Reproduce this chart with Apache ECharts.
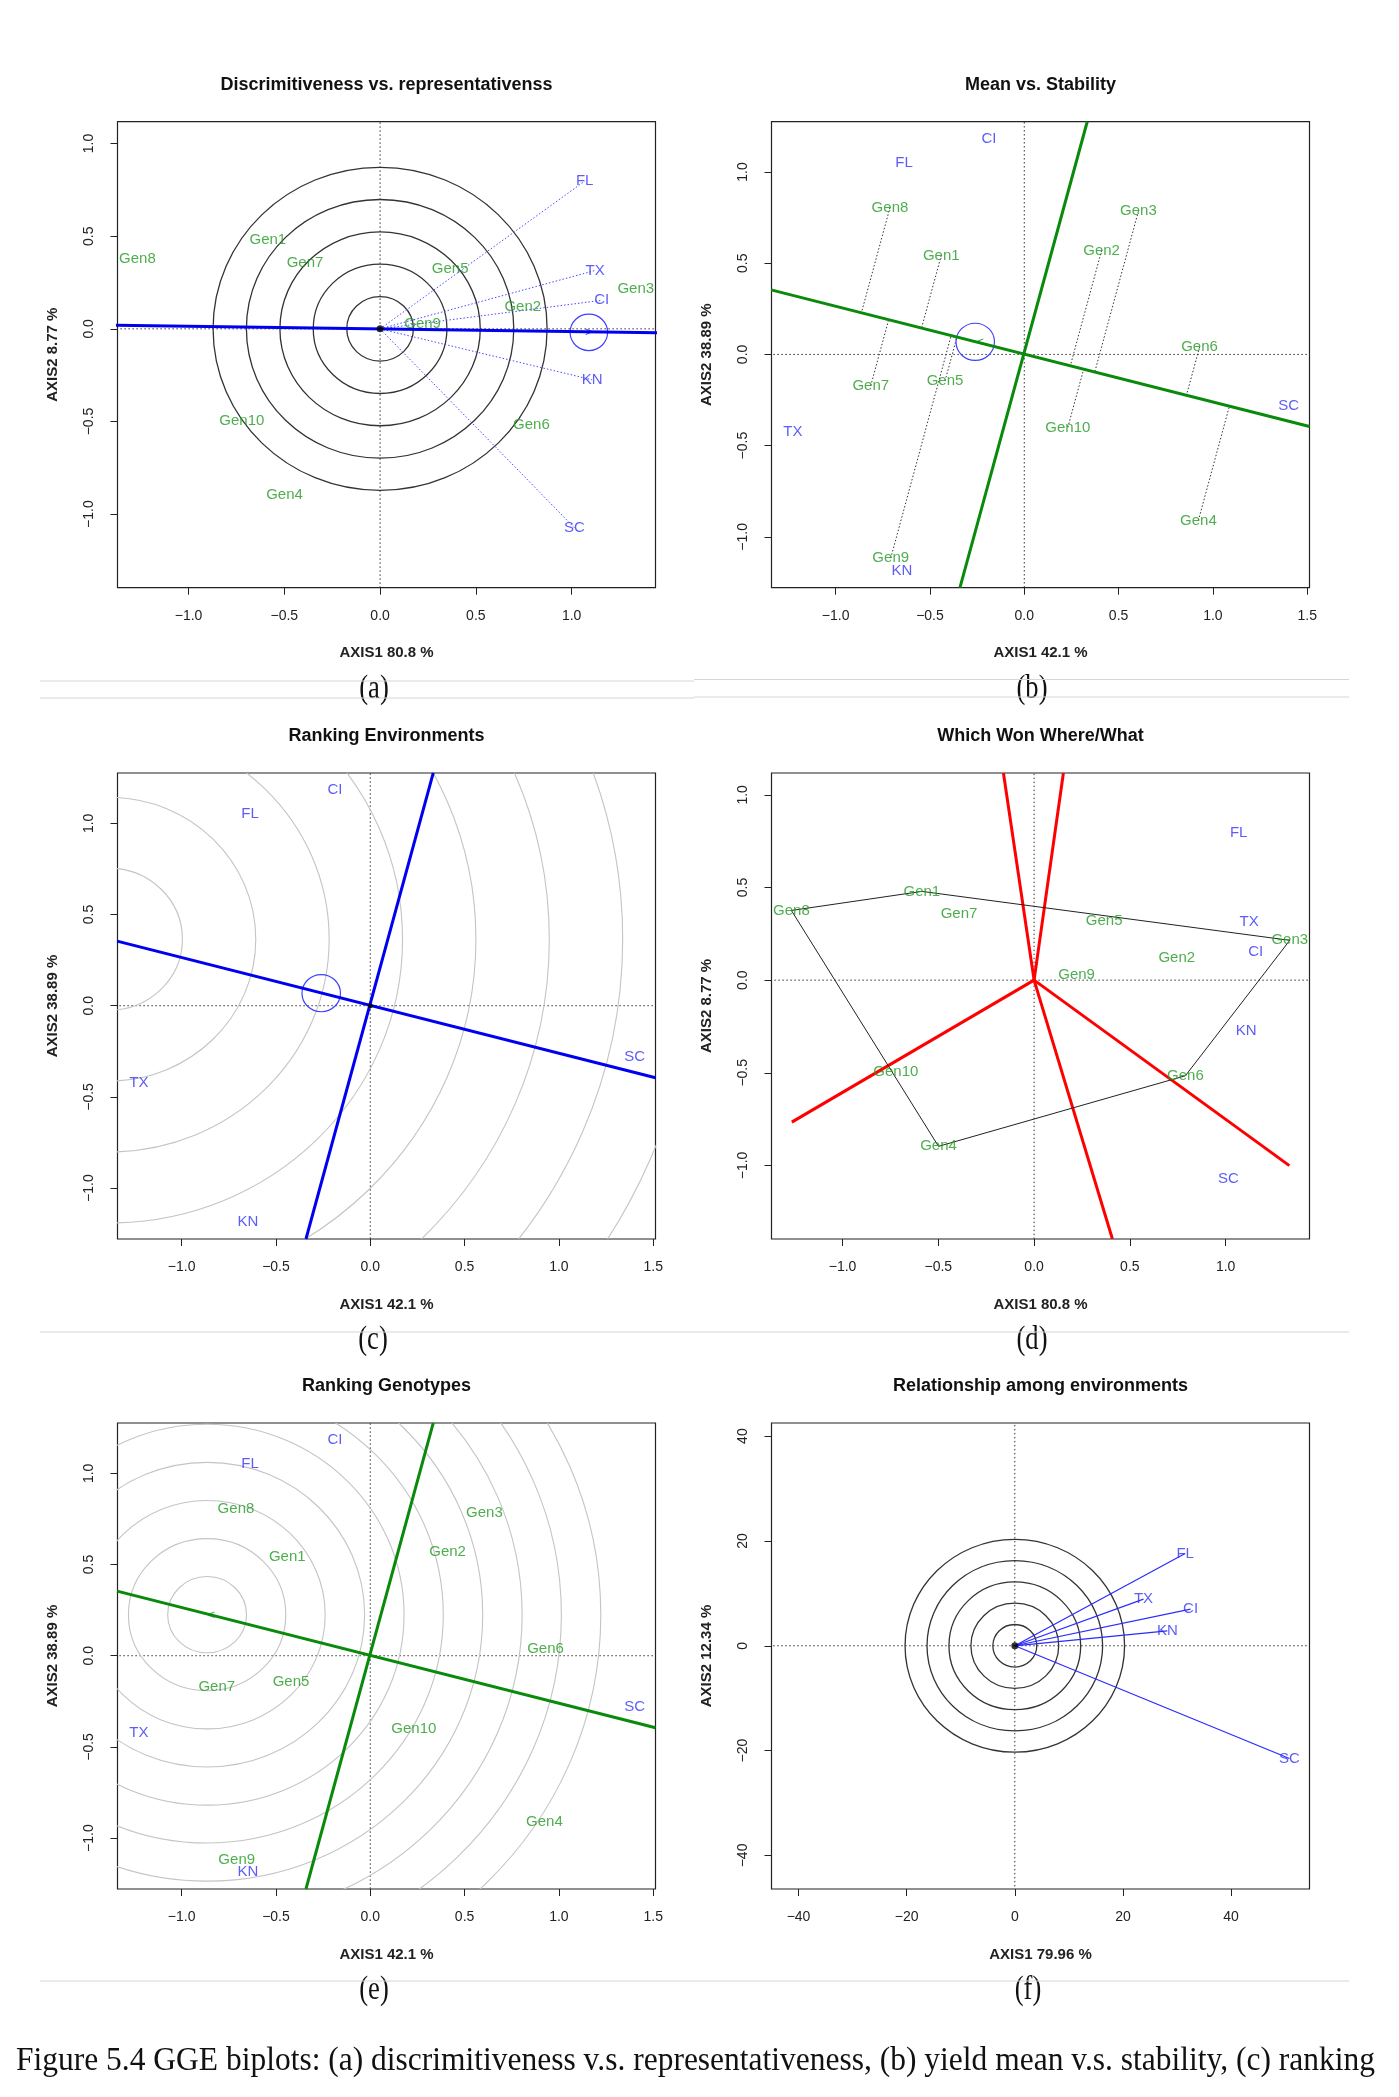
<!DOCTYPE html>
<html>
<head>
<meta charset="utf-8">
<title>GGE biplots</title>
<script src="https://cdn.jsdelivr.net/npm/echarts@6/dist/echarts.min.js"></script>
<style>
  html, body { margin: 0; padding: 0; background: #fff; }
  #chart { width: 1399px; height: 2097px; }
</style>
</head>
<body>
<div id="chart"></div>
<script>
// ---- values ----
const genotypes = ['Gen1', 'Gen2', 'Gen3', 'Gen4', 'Gen5', 'Gen6', 'Gen7', 'Gen8', 'Gen9', 'Gen10'];
const environments = ['FL', 'TX', 'CI', 'KN', 'SC'];

// scores on AXIS1 80.8 % / AXIS2 8.77 % (panels a, d)
const genAx1A = [-0.586, 0.745, 1.335, -0.499, 0.366, 0.790, -0.392, -1.267, 0.222, -0.722];
const genAx2A = [0.479, 0.120, 0.215, -0.897, 0.322, -0.516, 0.356, 0.376, 0.026, -0.497];
const envAx1A = [1.068, 1.123, 1.157, 1.107, 1.015];
const envAx2A = [0.797, 0.315, 0.154, -0.275, -1.074];

// scores on AXIS1 42.1 % / AXIS2 38.89 % (panels b, c, e)
const genAx1B = [-0.440, 0.410, 0.605, 0.923, -0.420, 0.929, -0.814, -0.712, -0.708, 0.231];
const genAx2B = [0.543, 0.570, 0.785, -0.910, -0.145, 0.040, -0.172, 0.805, -1.117, -0.400];
const envAx1B = [-0.637, -1.227, -0.187, -0.648, 1.402];
const envAx2B = [1.051, -0.422, 1.184, -1.186, -0.283];

// environment vectors on AXIS1 79.96 % / AXIS2 12.34 % (panel f)
const envAx1F = [31.5, 23.8, 32.5, 28.2, 50.8];
const envAx2F = [17.6, 8.9, 7.0, 2.85, -21.5];

// average-environment axes and markers
const aecLineA = [[-1.45, 0.021], [1.45, -0.021]];
const avgEnvA = [1.09, -0.019];
const avgRadiusA = [0.098];
const ringRadiiA = [0.174, 0.349, 0.523, 0.698, 0.872];

const aecAbscissaB = [[-1.342, 0.354], [1.512, -0.395]];
const aecOrdinateB = [[0.334, 1.277], [-0.341, -1.279]];
const avgEnvB = [-0.26, 0.069];
const avgRadiusB = [0.102];
const arrowB = [-0.235, 0.065];

const idealEnvC = [-1.385, 0.365];
const ringRadiiC = [0.389, 0.778, 1.167, 1.556, 1.945, 2.334, 2.723, 3.112];

const idealGenE = [-0.865, 0.225];
const arrowE = [-0.843, 0.22];
const ringRadiiE = [0.209, 0.417, 0.626, 0.835, 1.044, 1.252, 1.461, 1.670, 1.878, 2.087];

// which-won-where: hull vertices and sector rays (end points)
const hullOrder = ['Gen8', 'Gen1', 'Gen3', 'Gen6', 'Gen4', 'Gen8'];
const rayEndsD = [[-0.160, 1.118], [0.153, 1.118], [-1.265, -0.766], [0.409, -1.397], [1.333, -1.001]];

const ringRadiiF = [4.06, 8.12, 12.18, 16.24, 20.3];

// tick values
const ticksUnit = [-1, -0.5, 0, 0.5, 1];
const ticksUnitWide = [-1, -0.5, 0, 0.5, 1, 1.5];
const ticksF = [-40, -20, 0, 20, 40];

// ---- styling ----
const SANS = '"Liberation Sans", Arial, sans-serif';
const SERIF = '"Liberation Serif", "Times New Roman", serif';
const GREEN_TXT = '#229a22';
const GREEN_LN = '#0a8a0a';
const BLUE_TXT = '#3434f4';
const BLUE_LN = '#0000f0';

const W = 538, H = 466;
const colLeft = [117.5, 771.5];
const rowTop = [121.7, 773, 1423];

const panels = [
  { col: 0, row: 0, xr: [-1.371, 1.438], yr: [-1.397, 1.118], xt: ticksUnit, yt: ticksUnit,
    xname: 'AXIS1 80.8 %', yname: 'AXIS2 8.77 %', title: 'Discrimitiveness vs. representativenss', tag: '(a)', tagX: 374 },
  { col: 1, row: 0, xr: [-1.34, 1.512], yr: [-1.279, 1.276], xt: ticksUnitWide, yt: ticksUnit,
    xname: 'AXIS1 42.1 %', yname: 'AXIS2 38.89 %', title: 'Mean vs. Stability', tag: '(b)', tagX: 1032 },
  { col: 0, row: 1, xr: [-1.34, 1.512], yr: [-1.279, 1.276], xt: ticksUnitWide, yt: ticksUnit,
    xname: 'AXIS1 42.1 %', yname: 'AXIS2 38.89 %', title: 'Ranking Environments', tag: '(c)', tagX: 373 },
  { col: 1, row: 1, xr: [-1.371, 1.438], yr: [-1.397, 1.118], xt: ticksUnit, yt: ticksUnit,
    xname: 'AXIS1 80.8 %', yname: 'AXIS2 8.77 %', title: 'Which Won Where/What', tag: '(d)', tagX: 1032 },
  { col: 0, row: 2, xr: [-1.34, 1.512], yr: [-1.279, 1.276], xt: ticksUnitWide, yt: ticksUnit,
    xname: 'AXIS1 42.1 %', yname: 'AXIS2 38.89 %', title: 'Ranking Genotypes', tag: '(e)', tagX: 374 },
  { col: 1, row: 2, xr: [-45, 54.5], yr: [-46.4, 42.5], xt: ticksF, yt: ticksF,
    xname: 'AXIS1 79.96 %', yname: 'AXIS2 12.34 %', title: 'Relationship among environments', tag: '(f)', tagX: 1028, integer: true }
];

function tickFmt(integer) {
  return v => {
    const s = integer ? String(Math.abs(Math.round(v))) : Math.abs(v).toFixed(1);
    return (v < 0 ? '\u2212' : '') + s;
  };
}

const grids = [], xAxes = [], yAxes = [], series = [], graphics = [];

panels.forEach((p, i) => {
  const left = colLeft[p.col], top = rowTop[p.row];
  grids.push({ left, top, width: W, height: H, show: true, borderColor: '#222', borderWidth: 1.2, backgroundColor: 'transparent' });
  const common = {
    gridIndex: i, type: 'value', nameLocation: 'middle', nameGap: 58,
    nameTextStyle: { fontFamily: SANS, fontSize: 15, color: '#222', fontWeight: 'bold' },
    axisLine: { show: false, onZero: false },
    splitLine: { show: false },
    axisTick: { show: true, length: 7, lineStyle: { color: '#222', width: 1 } },
    axisLabel: { margin: 21, fontFamily: SANS, fontSize: 14, color: '#222', formatter: tickFmt(p.integer) }
  };
  xAxes.push(Object.assign({}, common, {
    min: p.xr[0], max: p.xr[1], name: p.xname,
    axisTick: Object.assign({}, common.axisTick, { customValues: p.xt }),
    axisLabel: Object.assign({}, common.axisLabel, { customValues: p.xt })
  }));
  yAxes.push(Object.assign({}, common, {
    min: p.yr[0], max: p.yr[1], name: p.yname, nameGap: 57,
    axisTick: Object.assign({}, common.axisTick, { customValues: p.yt }),
    axisLabel: Object.assign({}, common.axisLabel, { customValues: p.yt, rotate: 90 })
  }));
  graphics.push({
    type: 'text', x: left + W / 2, y: top - 37,
    style: { text: p.title, fontFamily: SANS, fontSize: 18, fontWeight: 'bold', fill: '#111',
             align: 'center', verticalAlign: 'middle', textAlign: 'center', textVerticalAlign: 'middle' }
  });
  graphics.push({
    type: 'text', x: p.tagX, y: top + H + 101, scaleX: 0.78,
    style: { text: p.tag, fontFamily: SERIF, fontSize: 34, fill: '#111',
             align: 'center', verticalAlign: 'middle', textAlign: 'center', textVerticalAlign: 'middle' }
  });
  // dotted zero reference lines
  series.push(segments(i, [[0, -999, 0, 999], [-999, 0, 999, 0]], { stroke: '#333', lineWidth: 1, lineDash: [1.5, 2.5] }));
});

// ---- series builders ----
function segments(gi, rows, style) {
  return {
    type: 'custom', xAxisIndex: gi, yAxisIndex: gi, clip: true, silent: true, animation: false,
    dimensions: ['x1', 'y1', 'x2', 'y2'], encode: { x: [0, 2], y: [1, 3] },
    data: rows,
    renderItem(params, api) {
      const a = api.coord([api.value(0), api.value(1)]);
      const b = api.coord([api.value(2), api.value(3)]);
      return { type: 'line', shape: { x1: a[0], y1: a[1], x2: b[0], y2: b[1] },
               style: Object.assign({ fill: null }, style) };
    }
  };
}

function rings(gi, center, radii, stroke, lineWidth) {
  return {
    type: 'custom', xAxisIndex: gi, yAxisIndex: gi, clip: true, silent: true, animation: false,
    data: radii.map(r => [center[0], center[1], r]),
    renderItem(params, api) {
      const c = api.coord([api.value(0), api.value(1)]);
      const s = api.size([api.value(2), api.value(2)]);
      return { type: 'ellipse', shape: { cx: c[0], cy: c[1], rx: s[0], ry: s[1] },
               style: { fill: null, stroke, lineWidth } };
    }
  };
}

function labels(gi, names, xs, ys, color, size) {
  return {
    type: 'scatter', xAxisIndex: gi, yAxisIndex: gi, silent: true, animation: false, z: 6,
    symbolSize: 1, itemStyle: { color: 'rgba(0,0,0,0)' },
    data: names.map((n, k) => ({ name: n, value: [xs[k], ys[k]] })),
    label: { show: true, position: 'inside', formatter: '{b}', color, fontSize: size || 15, fontFamily: SANS }
  };
}

function polyline(gi, pts, color, width) {
  return {
    type: 'line', xAxisIndex: gi, yAxisIndex: gi, silent: true, animation: false, clip: true,
    symbol: 'none', data: pts, lineStyle: { color, width }, z: 3
  };
}

function dot(gi, pt, size) {
  return {
    type: 'scatter', xAxisIndex: gi, yAxisIndex: gi, silent: true, animation: false, z: 7,
    symbol: 'circle', symbolSize: size, itemStyle: { color: '#000' }, data: [pt]
  };
}

const originVectors = (xs, ys) => xs.map((x, k) => [0, 0, x, ys[k]]);
const idx = name => genotypes.indexOf(name);

// ---- (a) discrimitiveness vs representativeness ----
series.push(rings(0, [0, 0], ringRadiiA, '#333', 1.3));
series.push(segments(0, originVectors(envAx1A, envAx2A), { stroke: '#4a4aff', lineWidth: 1, lineDash: [1.5, 2] }));
series.push(polyline(0, aecLineA, BLUE_LN, 3));
series.push(rings(0, avgEnvA, avgRadiusA, '#4040ff', 1.2));
series.push(labels(0, ['>'], [avgEnvA[0]], [avgEnvA[1]], BLUE_LN, 13));
series.push(dot(0, [0, 0], 7));
series.push(labels(0, genotypes, genAx1A, genAx2A, GREEN_TXT));
series.push(labels(0, environments, envAx1A, envAx2A, BLUE_TXT));

// ---- (b) mean vs stability ----
const dirB = (() => {
  const dx = aecAbscissaB[1][0] - aecAbscissaB[0][0], dy = aecAbscissaB[1][1] - aecAbscissaB[0][1];
  const n = Math.hypot(dx, dy);
  return [dx / n, dy / n];
})();
const projB = genAx1B.map((x, k) => {
  const t = x * dirB[0] + genAx2B[k] * dirB[1];
  return [x, genAx2B[k], t * dirB[0], t * dirB[1]];
});
series.push(segments(1, projB, { stroke: '#333', lineWidth: 1, lineDash: [1.5, 2] }));
series.push(polyline(1, aecAbscissaB, GREEN_LN, 3));
series.push(polyline(1, aecOrdinateB, GREEN_LN, 3));
series.push(rings(1, avgEnvB, avgRadiusB, '#4040ff', 1.2));
series.push(labels(1, ['<'], [arrowB[0]], [arrowB[1]], GREEN_LN, 13));
series.push(labels(1, genotypes, genAx1B, genAx2B, GREEN_TXT));
series.push(labels(1, environments, envAx1B, envAx2B, BLUE_TXT));

// ---- (c) ranking environments ----
series.push(rings(2, idealEnvC, ringRadiiC, '#c4c4c4', 1.1));
series.push(polyline(2, aecAbscissaB, BLUE_LN, 3));
series.push(polyline(2, aecOrdinateB, BLUE_LN, 3));
series.push(rings(2, avgEnvB, avgRadiusB, '#4040ff', 1.2));
series.push(dot(2, [0, 0], 5));
series.push(labels(2, environments, envAx1B, envAx2B, BLUE_TXT));

// ---- (d) which won where/what ----
series.push(polyline(3, hullOrder.map(n => [genAx1A[idx(n)], genAx2A[idx(n)]]), '#222', 1));
series.push(segments(3, rayEndsD.map(e => [0, 0, e[0], e[1]]), { stroke: '#ff0000', lineWidth: 3 }));
series.push(labels(3, genotypes, genAx1A, genAx2A, GREEN_TXT));
series.push(labels(3, environments, envAx1A, envAx2A, BLUE_TXT));

// ---- (e) ranking genotypes ----
series.push(rings(4, idealGenE, ringRadiiE, '#c4c4c4', 1.1));
series.push(polyline(4, aecAbscissaB, GREEN_LN, 3));
series.push(polyline(4, aecOrdinateB, GREEN_LN, 3));
series.push(labels(4, ['<'], [arrowE[0]], [arrowE[1]], GREEN_LN, 13));
series.push(labels(4, genotypes, genAx1B, genAx2B, GREEN_TXT));
series.push(labels(4, environments, envAx1B, envAx2B, BLUE_TXT));

// ---- (f) relationship among environments ----
series.push(rings(5, [0, 0], ringRadiiF, '#333', 1.3));
series.push(segments(5, originVectors(envAx1F, envAx2F), { stroke: '#2a2aff', lineWidth: 1.2 }));
series.push(dot(5, [0, 0], 7));
series.push(labels(5, environments, envAx1F, envAx2F, BLUE_TXT));

// ---- page furniture: separators and figure caption ----
[[40, 694, 681], [40, 694, 698], [694, 1349, 679.5], [694, 1349, 697], [40, 1349, 1332], [40, 1349, 1981]].forEach(([x1, x2, y]) => {
  graphics.push({ type: 'line', shape: { x1, y1: y, x2, y2: y }, style: { stroke: '#d6d6d6', lineWidth: 1 } });
});

const caption = 'Figure 5.4 GGE biplots: (a) discrimitiveness v.s. representativeness, (b) yield mean v.s. stability, (c) ranking';
const captionSize = 34;
const ctx = document.createElement('canvas').getContext('2d');
ctx.font = captionSize + 'px ' + SERIF;
const captionScale = 1359 / ctx.measureText(caption).width;
graphics.push({
  type: 'text', x: 16, y: 2061, scaleX: captionScale,
  style: { text: caption, fontFamily: SERIF, fontSize: captionSize, fill: '#111',
           align: 'left', verticalAlign: 'middle', textAlign: 'left', textVerticalAlign: 'middle' }
});

const chart = echarts.init(document.getElementById('chart'), null, { renderer: 'canvas' });
chart.setOption({
  animation: false,
  backgroundColor: '#fff',
  grid: grids,
  xAxis: xAxes,
  yAxis: yAxes,
  series,
  graphic: { elements: graphics }
});
</script>
</body>
</html>
